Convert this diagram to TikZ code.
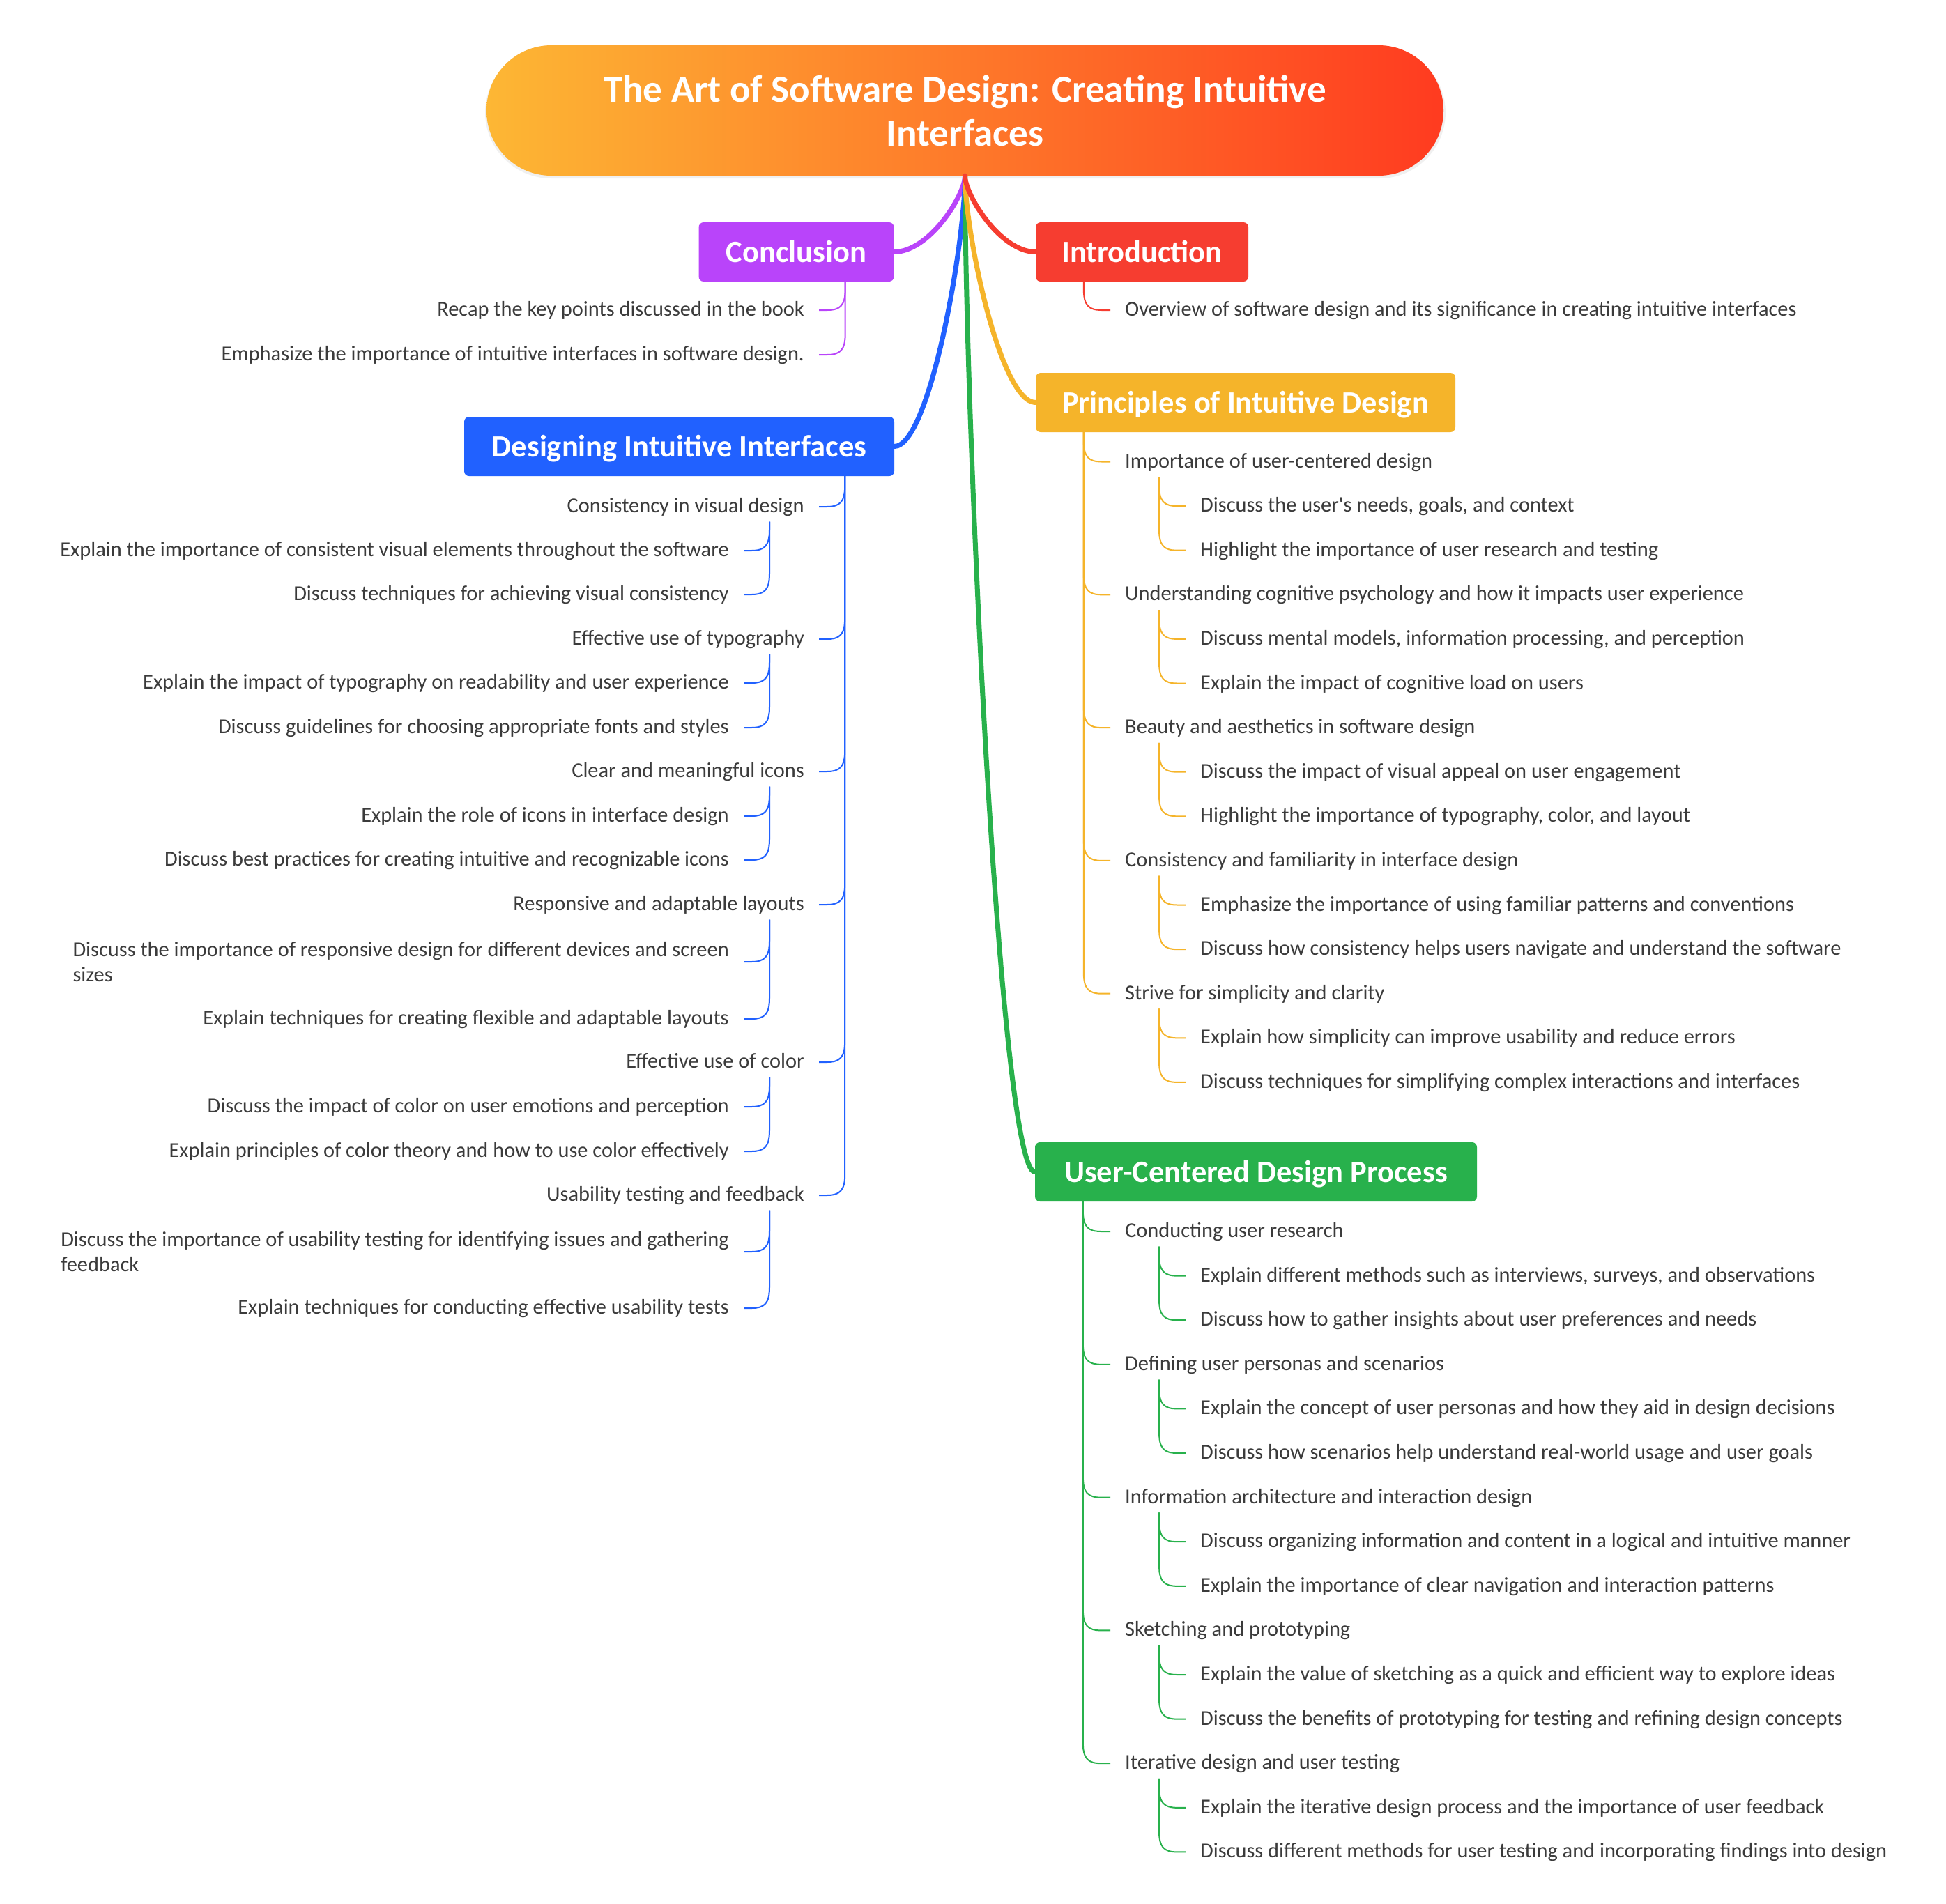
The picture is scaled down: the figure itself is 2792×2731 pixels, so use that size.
\documentclass[tikz,border=0pt]{standalone}
\usepackage{fontspec}
\setmainfont{Carlito}
\usetikzlibrary{calc}
\definecolor{cRed}{HTML}{F63D30}
\definecolor{cPur}{HTML}{B944FA}
\definecolor{cAmb}{HTML}{F5B42A}
\definecolor{cBlu}{HTML}{2161FF}
\definecolor{cGrn}{HTML}{28B14C}
\definecolor{rootL}{HTML}{FDB734}
\definecolor{rootR}{HTML}{FF3B20}
\definecolor{txt}{HTML}{3B3B3B}
\newcommand\cnR[4]{%
  \coordinate (qT) at ($(#2.south west)+#3$);
  \coordinate (qB) at ($(#4.west)+(-21,0)$);
  \draw[#1] (qT) -- ($(qT|-qB)+(0,-30)$) .. controls ($(qT|-qB)+(0,-7)$) and ($(qT|-qB)+(7,0)$) .. ($(qT|-qB)+(26,0)$) -- (qB);}
\newcommand\cnL[4]{%
  \coordinate (qT) at ($(#2.south east)+#3$);
  \coordinate (qB) at ($(#4.east)+(21,0)$);
  \draw[#1] (qT) -- ($(qT|-qB)+(0,-30)$) .. controls ($(qT|-qB)+(0,-7)$) and ($(qT|-qB)+(-7,0)$) .. ($(qT|-qB)+(-26,0)$) -- (qB);}
\newcommand\cnM[3]{%
  \draw[#1] (#2) .. controls ($(#2)!0.25!(#2|-#3)$) and ($(#2|-#3)!0.5!(#3)$) .. (#3);}
\begin{document}
\begin{tikzpicture}[x=1pt,y=-1pt,
  rtxt/.style={anchor=west, inner sep=0pt, text=txt, font=\fontsize{30.4}{36}\selectfont, text height=22pt, text depth=5pt},
  ltxt/.style={rtxt, anchor=east},
  ltwo/.style={anchor=east, inner sep=0pt, text=txt, font=\fontsize{30.4}{36}\selectfont, align=left},
  mainbox/.style={rounded corners=7pt, text=white, font=\bfseries\fontsize{44.5}{50}\selectfont, minimum height=85pt, inner sep=0pt, text height=34pt, text depth=4pt},
  mainline/.style={line width=7pt, line cap=round},
  subline/.style={line width=2pt},
]
\useasboundingbox (0,0) rectangle (2792,2731);
\fill[white] (0,0) rectangle (2792,2731);

% root
\fill[black!6, rounded corners=95pt] (696,67) rectangle (2074,256);
\node[rounded corners=93pt, left color=rootL, right color=rootR, minimum width=1373pt, minimum height=187pt, text=white, font=\bfseries\fontsize{55}{63}\selectfont, align=center, inner sep=0pt] (root) at (1384.5,158.5) {The Art of Software Design: Creating Intuitive\\Interfaces};

% main boxes
\node[mainbox, fill=cRed, minimum width=305pt] (intro) at (1638.5,361.5) {Introduction};
\node[mainbox, fill=cAmb, minimum width=602pt] (prin) at (1787,577.5) {Principles of Intuitive Design};
\node[mainbox, fill=cGrn, minimum width=634pt] (ucd) at (1802,1681.5) {User-Centered Design Process};
\node[mainbox, fill=cPur, minimum width=280pt] (concl) at (1142.5,361.5) {Conclusion};
\node[mainbox, fill=cBlu, minimum width=617pt] (desg) at (974.5,640.5) {Designing Intuitive Interfaces};

% main connectors
\cnM{mainline,cPur}{root.south}{concl.east}
\cnM{mainline,cBlu}{root.south}{desg.east}
\cnM{mainline,cGrn}{root.south}{ucd.west}
\cnM{mainline,cAmb}{root.south}{prin.west}
\cnM{mainline,cRed}{root.south}{intro.west}

% Introduction
\node[rtxt] (i1) at (1614,445) {Overview of software design and its significance in creating intuitive interfaces};
\cnR{subline,cRed}{intro}{(69,0)}{i1}

% Principles
\node[rtxt] (p1) at (1614,662.5) {Importance of user-centered design};
\node[rtxt] (p1a) at (1722,726.1) {Discuss the user\textquotesingle s needs, goals, and context};
\node[rtxt] (p1b) at (1722,789.7) {Highlight the importance of user research and testing};
\node[rtxt] (p2) at (1614,853.3) {Understanding cognitive psychology and how it impacts user experience};
\node[rtxt] (p2a) at (1722,916.9) {Discuss mental models, information processing, and perception};
\node[rtxt] (p2b) at (1722,980.5) {Explain the impact of cognitive load on users};
\node[rtxt] (p3) at (1614,1044.1) {Beauty and aesthetics in software design};
\node[rtxt] (p3a) at (1722,1107.7) {Discuss the impact of visual appeal on user engagement};
\node[rtxt] (p3b) at (1722,1171.3) {Highlight the importance of typography, color, and layout};
\node[rtxt] (p4) at (1614,1234.9) {Consistency and familiarity in interface design};
\node[rtxt] (p4a) at (1722,1298.5) {Emphasize the importance of using familiar patterns and conventions};
\node[rtxt] (p4b) at (1722,1362.1) {Discuss how consistency helps users navigate and understand the software};
\node[rtxt] (p5) at (1614,1425.7) {Strive for simplicity and clarity};
\node[rtxt] (p5a) at (1722,1489.3) {Explain how simplicity can improve usability and reduce errors};
\node[rtxt] (p5b) at (1722,1552.9) {Discuss techniques for simplifying complex interactions and interfaces};
\foreach \c in {p1,p2,p3,p4,p5}{\cnR{subline,cAmb}{prin}{(69,0)}{\c}}
\foreach \c in {p1,p2,p3,p4,p5}{\cnR{subline,cAmb}{\c}{(49,8)}{\c a}\cnR{subline,cAmb}{\c}{(49,8)}{\c b}}

% User-Centered Design Process
\node[rtxt] (u1) at (1614,1767) {Conducting user research};
\node[rtxt] (u1a) at (1722,1830.6) {Explain different methods such as interviews, surveys, and observations};
\node[rtxt] (u1b) at (1722,1894.2) {Discuss how to gather insights about user preferences and needs};
\node[rtxt] (u2) at (1614,1957.8) {Defining user personas and scenarios};
\node[rtxt] (u2a) at (1722,2021.4) {Explain the concept of user personas and how they aid in design decisions};
\node[rtxt] (u2b) at (1722,2085) {Discuss how scenarios help understand real-world usage and user goals};
\node[rtxt] (u3) at (1614,2148.6) {Information architecture and interaction design};
\node[rtxt] (u3a) at (1722,2212.2) {Discuss organizing information and content in a logical and intuitive manner};
\node[rtxt] (u3b) at (1722,2275.8) {Explain the importance of clear navigation and interaction patterns};
\node[rtxt] (u4) at (1614,2339.4) {Sketching and prototyping};
\node[rtxt] (u4a) at (1722,2403) {Explain the value of sketching as a quick and efficient way to explore ideas};
\node[rtxt] (u4b) at (1722,2466.6) {Discuss the benefits of prototyping for testing and refining design concepts};
\node[rtxt] (u5) at (1614,2530.2) {Iterative design and user testing};
\node[rtxt] (u5a) at (1722,2593.8) {Explain the iterative design process and the importance of user feedback};
\node[rtxt] (u5b) at (1722,2657.4) {Discuss different methods for user testing and incorporating findings into design};
\foreach \c in {u1,u2,u3,u4,u5}{\cnR{subline,cGrn}{ucd}{(69,0)}{\c}}
\foreach \c in {u1,u2,u3,u4,u5}{\cnR{subline,cGrn}{\c}{(49,8)}{\c a}\cnR{subline,cGrn}{\c}{(49,8)}{\c b}}

% Conclusion
\node[ltxt] (c1) at (1154,445) {Recap the key points discussed in the book};
\node[ltxt] (c2) at (1154,509) {Emphasize the importance of intuitive interfaces in software design.};
\foreach \c in {c1,c2}{\cnL{subline,cPur}{concl}{(-70,0)}{\c}}

% Designing Intuitive Interfaces
\node[ltxt] (d1) at (1154,727) {Consistency in visual design};
\node[ltxt] (d1a) at (1046,790) {Explain the importance of consistent visual elements throughout the software};
\node[ltxt] (d1b) at (1046,853) {Discuss techniques for achieving visual consistency};
\node[ltxt] (d2) at (1154,917) {Effective use of typography};
\node[ltxt] (d2a) at (1046,980) {Explain the impact of typography on readability and user experience};
\node[ltxt] (d2b) at (1046,1044) {Discuss guidelines for choosing appropriate fonts and styles};
\node[ltxt] (d3) at (1154,1107) {Clear and meaningful icons};
\node[ltxt] (d3a) at (1046,1171) {Explain the role of icons in interface design};
\node[ltxt] (d3b) at (1046,1234) {Discuss best practices for creating intuitive and recognizable icons};
\node[ltxt] (d4) at (1154,1298) {Responsive and adaptable layouts};
\node[ltwo] (d4a) at (1046,1380) {Discuss the importance of responsive design for different devices and screen\\sizes};
\node[ltxt] (d4b) at (1046,1462) {Explain techniques for creating flexible and adaptable layouts};
\node[ltxt] (d5) at (1154,1524) {Effective use of color};
\node[ltxt] (d5a) at (1046,1588) {Discuss the impact of color on user emotions and perception};
\node[ltxt] (d5b) at (1046,1652) {Explain principles of color theory and how to use color effectively};
\node[ltxt] (d6) at (1154,1715) {Usability testing and feedback};
\node[ltwo] (d6a) at (1046,1796) {Discuss the importance of usability testing for identifying issues and gathering\\feedback};
\node[ltxt] (d6b) at (1046,1877) {Explain techniques for conducting effective usability tests};
\foreach \c in {d1,d2,d3,d4,d5,d6}{\cnL{subline,cBlu}{desg}{(-71,0)}{\c}}
\foreach \c in {d1,d2,d3,d4,d5,d6}{\cnL{subline,cBlu}{\c}{(-50,8)}{\c a}\cnL{subline,cBlu}{\c}{(-50,8)}{\c b}}
\end{tikzpicture}
\end{document}
